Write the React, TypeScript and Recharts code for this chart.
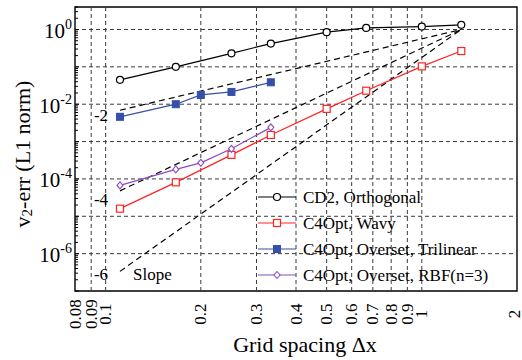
import React from 'react';
import {
  LineChart,
  Line,
  XAxis,
  YAxis,
  ReferenceLine,
  ReferenceArea,
  Legend,
  LabelList,
  Label,
} from 'recharts';

const FONT = "'Liberation Serif', 'Times New Roman', Times, serif";

// ---- data ----
const gridX = [0.111, 0.1667, 0.25, 0.333, 0.5, 0.667, 1.0, 1.333];
const cd2Err = [0.045, 0.1, 0.23, 0.42, 0.85, 1.1, 1.2, 1.33];
const wavyErr = [1.6e-5, 8.1e-5, 4.4e-4, 1.5e-3, 7.5e-3, 0.023, 0.103, 0.265];
const oversetX = [0.111, 0.1667, 0.2, 0.25, 0.333];
const trilinearErr = [4.6e-3, 0.01, 0.0177, 0.0213, 0.0386];
const rbfErr = [6.7e-5, 1.8e-4, 2.7e-4, 6.4e-4, 2.4e-3];
const slopeX = [0.111, 1.333];
const slope2Err = [0.0069, 1.0];
const slope4Err = [4.8e-5, 1.0];
const slope6Err = [3.35e-7, 1.0];

const seriesNames = [
  'CD2, Orthogonal',
  'C4Opt, Wavy',
  'C4Opt, Overset, Trilinear',
  'C4Opt, Overset, RBF(n=3)',
];
const seriesColors = ['#000000', '#ff2424', '#3550a8', '#8a4cc4'];
const seriesShapes = ['circle', 'square', 'filledSquare', 'diamond'];

const xTicks = [0.08, 0.09, 0.1, 0.2, 0.3, 0.4, 0.5, 0.6, 0.7, 0.8, 0.9, 1, 2];
const xTickLabels = ['0.08', '0.09', '0.1', '0.2', '0.3', '0.4', '0.5', '0.6', '0.7', '0.8', '0.9', '1', '2'];
const xGrid = [0.09, 0.1, 0.2, 0.3, 0.4, 0.5, 0.6, 0.7, 0.8, 0.9, 1];
const yGrid = [1, 0.1, 0.01, 1e-3, 1e-4, 1e-5, 1e-6];
const yLabelTicks = [1, 1e-2, 1e-4, 1e-6];
const yLabelExps = ['0', '-2', '-4', '-6'];
const mantissas = [1, 2, 3, 4, 5, 6, 7, 8, 9];
const decades = [1e-7, 1e-6, 1e-5, 1e-4, 1e-3, 1e-2, 1e-1, 1];
const yMinorTicks = decades.flatMap((d) => mantissas.map((m) => m * d)).filter((v) => v <= 4);

const X_DOMAIN = [0.08, 2];
const Y_DOMAIN = [1e-7, 4];

const toPoints = (xs: number[], ys: number[]) => xs.map((x, i) => ({ x, y: ys[i] }));

const cd2Data = toPoints(gridX, cd2Err);
const wavyData = toPoints(gridX, wavyErr);
const trilinearData = toPoints(oversetX, trilinearErr);
const rbfData = toPoints(oversetX, rbfErr);
const slope2Data = toPoints(slopeX, slope2Err);
const slope4Data = toPoints(slopeX, slope4Err);
const slope6Data = toPoints(slopeX, slope6Err);

const near = (a: number, b: number) => Math.abs(a - b) / Math.abs(b) < 1e-6;

function marker(shape: string, cx: number, cy: number, color: string, key?: string) {
  if (shape === 'circle')
    return <circle key={key} cx={cx} cy={cy} r={3.5} fill="#fff" stroke={color} strokeWidth={1.2} />;
  if (shape === 'square')
    return <rect key={key} x={cx - 3.5} y={cy - 3.5} width={7} height={7} fill="#fff" stroke={color} strokeWidth={1.2} />;
  if (shape === 'filledSquare')
    return <rect key={key} x={cx - 3.5} y={cy - 3.5} width={7} height={7} fill={color} stroke={color} strokeWidth={1} />;
  return (
    <path
      key={key}
      d={`M${cx},${cy - 3.5} L${cx + 3},${cy} L${cx},${cy + 3.5} L${cx - 3},${cy} Z`}
      fill="#fff"
      stroke={color}
      strokeWidth={1.1}
    />
  );
}

const makeDot = (i: number) => (p: any) =>
  marker(seriesShapes[i], p.cx, p.cy, seriesColors[i], `d${i}-${p.index}`);

const LeftYTick = (props: any) => {
  const { x, y, payload } = props;
  const v = payload.value;
  const idx = yLabelTicks.findIndex((t) => near(v, t));
  const isDecade = decades.some((d) => near(v, d));
  return (
    <g>
      <line x1={x} x2={x + (isDecade ? 4 : 3)} y1={y} y2={y} stroke="#000" strokeWidth={1} />
      {idx >= 0 && (
        <text x={x - 3} y={y + 8.5} textAnchor="end" fontFamily={FONT} fontSize={21} fill="#000">
          10
          <tspan dy={-9} fontSize={14}>
            {yLabelExps[idx]}
          </tspan>
        </text>
      )}
    </g>
  );
};

const RightYTick = (props: any) => {
  const { x, y, payload } = props;
  const isDecade = decades.some((d) => near(payload.value, d));
  return <line x1={x - (isDecade ? 4 : 3)} x2={x} y1={y} y2={y} stroke="#000" strokeWidth={1} />;
};

const XTick = (props: any) => {
  const { x, y, payload } = props;
  const idx = xTicks.findIndex((t) => near(payload.value, t));
  const cy = y + 23;
  // keep the last label inside the picture
  const cx = idx === xTicks.length - 1 ? x - 3 : x;
  return (
    <text
      x={cx}
      y={cy}
      transform={`rotate(-90, ${cx}, ${cy})`}
      textAnchor="middle"
      dominantBaseline="central"
      fontFamily={FONT}
      fontSize={17}
      fill="#000"
    >
      {idx >= 0 ? xTickLabels[idx] : ''}
    </text>
  );
};

const slopeLabel = (text: string, dy: number, withSlope: boolean) => (p: any) => {
  if (p.index !== 0) return null;
  return (
    <g>
      <text x={p.x - 19} y={p.y + dy} textAnchor="middle" dominantBaseline="central" fontFamily={FONT} fontSize={17} fill="#000">
        {text}
      </text>
      {withSlope && (
        <text x={p.x + 13} y={p.y + dy} dominantBaseline="central" fontFamily={FONT} fontSize={17} fill="#000">
          Slope
        </text>
      )}
    </g>
  );
};

const LegendContent = () => (
  <svg width={270} height={110} style={{ display: 'block', overflow: 'visible' }}>
    {seriesNames.map((name, i) => {
      const cy = 13 + i * 26;
      return (
        <g key={name}>
          <line x1={8} x2={46} y1={cy} y2={cy} stroke={seriesColors[i]} strokeWidth={1.2} />
          {marker(seriesShapes[i], 27, cy, seriesColors[i])}
          <text x={53} y={cy + 6} fontFamily={FONT} fontSize={17} fill="#000">
            {name}
          </text>
        </g>
      );
    })}
  </svg>
);

const XTitle = (props: any) => {
  const vb = props.viewBox || {};
  const cx = vb.x + vb.width / 2 + 9;
  return (
    <text x={cx} y={352} textAnchor="middle" fontFamily={FONT} fontSize={22} fill="#000">
      Grid spacing Δx
    </text>
  );
};

const YTitle = (props: any) => {
  const vb = props.viewBox || {};
  const cx = 22;
  const cy = vb.y + vb.height / 2 + 5;
  return (
    <text
      x={cx}
      y={cy}
      transform={`rotate(-90, ${cx}, ${cy})`}
      textAnchor="middle"
      dominantBaseline="central"
      fontFamily={FONT}
      fontSize={22}
      fill="#000"
    >
      v<tspan dy={5} fontSize={15}>2</tspan>
      <tspan dy={-5}>-err (L1 norm)</tspan>
    </text>
  );
};

const gridStroke = '#3a3a3a';

export default function App() {
  return (
    <div style={{ position: 'absolute', left: 0, top: 0, background: '#fff' }}>
      <LineChart width={522} height={360} margin={{ top: 7, right: 5, bottom: 0, left: 0 }}>
        <XAxis
          dataKey="x"
          type="number"
          scale="log"
          domain={X_DOMAIN}
          ticks={xTicks}
          interval={0}
          allowDataOverflow
          axisLine={false}
          tickLine={false}
          tickSize={0}
          tickMargin={0}
          height={69}
          tick={<XTick />}
        >
          <Label content={<XTitle />} />
        </XAxis>
        <YAxis
          yAxisId="l"
          type="number"
          scale="log"
          domain={Y_DOMAIN}
          ticks={yMinorTicks}
          interval={0}
          allowDataOverflow
          axisLine={false}
          tickLine={false}
          tickSize={0}
          tickMargin={0}
          width={75}
          tick={<LeftYTick />}
        >
          <Label content={<YTitle />} />
        </YAxis>
        <YAxis
          yAxisId="r"
          orientation="right"
          type="number"
          scale="log"
          domain={Y_DOMAIN}
          ticks={yMinorTicks}
          interval={0}
          allowDataOverflow
          axisLine={false}
          tickLine={false}
          tickSize={0}
          tickMargin={0}
          width={0}
          tick={<RightYTick />}
        />

        {xGrid.map((v) => (
          <ReferenceLine key={`gx${v}`} yAxisId="l" x={v} stroke={gridStroke} strokeDasharray="4 3" strokeWidth={1} />
        ))}
        {yGrid.map((v) => (
          <ReferenceLine key={`gy${v}`} yAxisId="l" y={v} stroke={gridStroke} strokeDasharray="4 3" strokeWidth={1} />
        ))}
        <ReferenceArea
          yAxisId="l"
          x1={X_DOMAIN[0]}
          x2={X_DOMAIN[1]}
          y1={Y_DOMAIN[0]}
          y2={Y_DOMAIN[1]}
          fill="none"
          fillOpacity={0}
          stroke="#000"
          strokeWidth={1.4}
        />

        <Line yAxisId="r" data={slope2Data} dataKey="y" stroke="#000" strokeWidth={1.2} strokeDasharray="6 4" dot={false} isAnimationActive={false} legendType="none">
          <LabelList dataKey="y" content={slopeLabel('-2', 5, false)} />
        </Line>
        <Line yAxisId="l" data={slope4Data} dataKey="y" stroke="#000" strokeWidth={1.2} strokeDasharray="6 4" dot={false} isAnimationActive={false} legendType="none">
          <LabelList dataKey="y" content={slopeLabel('-4', 9, false)} />
        </Line>
        <Line yAxisId="l" data={slope6Data} dataKey="y" stroke="#000" strokeWidth={1.2} strokeDasharray="6 4" dot={false} isAnimationActive={false} legendType="none">
          <LabelList dataKey="y" content={slopeLabel('-6', 3, true)} />
        </Line>

        <Line yAxisId="l" data={cd2Data} dataKey="y" name={seriesNames[0]} stroke={seriesColors[0]} strokeWidth={1.2} dot={makeDot(0)} isAnimationActive={false} />
        <Line yAxisId="l" data={wavyData} dataKey="y" name={seriesNames[1]} stroke={seriesColors[1]} strokeWidth={1.2} dot={makeDot(1)} isAnimationActive={false} />
        <Line yAxisId="l" data={trilinearData} dataKey="y" name={seriesNames[2]} stroke={seriesColors[2]} strokeWidth={1.2} dot={makeDot(2)} isAnimationActive={false} />
        <Line yAxisId="l" data={rbfData} dataKey="y" name={seriesNames[3]} stroke={seriesColors[3]} strokeWidth={1.2} dot={makeDot(3)} isAnimationActive={false} />

        <Legend
          layout="vertical"
          align="center"
          verticalAlign="middle"
          content={<LegendContent />}
          wrapperStyle={{ left: 250, top: 184, width: 270, height: 110 }}
        />
      </LineChart>
    </div>
  );
}
